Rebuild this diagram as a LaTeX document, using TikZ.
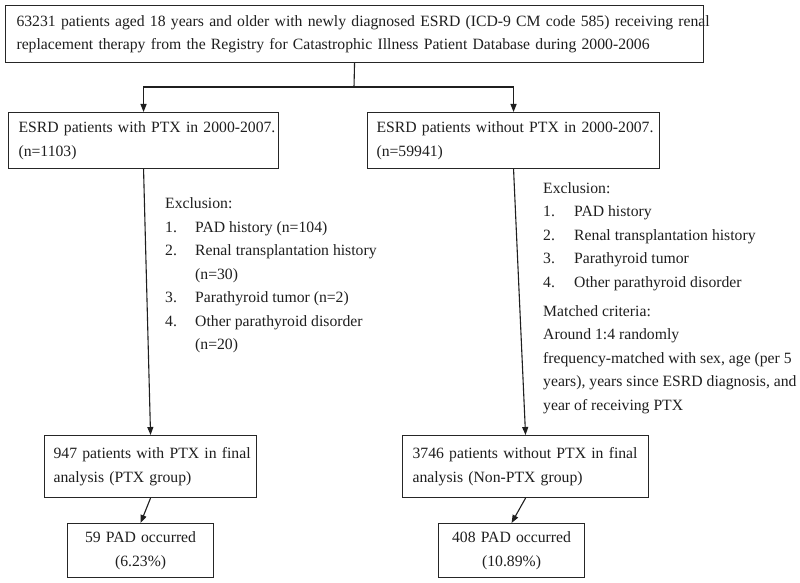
\documentclass[tikz,border=0pt]{standalone}
\usepackage{fontspec}
\setmainfont{Liberation Serif}
\usetikzlibrary{arrows.meta}
\begin{document}
\begin{tikzpicture}[x=1pt,y=-1pt,
  every node/.style={font=\fontsize{15.7}{23.5}\selectfont, text=black!88},
  box/.style={draw=black!85, line width=1.1pt, rectangle, anchor=north west,
    inner ysep=0pt, align=left},
  cbox/.style={box, align=center},
  txt/.style={anchor=base west, inner sep=0pt},
  line/.style={draw=black!88, line width=1.1pt},
  arr/.style={line, -{Triangle[length=8pt,width=6pt]}}]
\useasboundingbox[fill=white] (0,0) rectangle (800,583);

% boxes
\node[box, minimum width=698pt, minimum height=57pt, text width=676pt, inner xsep=11pt] (top) at (5,5)
  {\mbox{63231 patients aged 18 years and older with newly diagnosed ESRD (ICD-9 CM code 585) receiving renal}\\
   \mbox{replacement therapy from the Registry for Catastrophic Illness Patient Database during 2000-2006}};
\node[box, minimum width=270pt, minimum height=56pt, text width=250pt, inner xsep=10pt] (b1) at (8,112)
  {\mbox{ESRD patients with PTX in 2000-2007.}\\(n=1103)};
\node[box, minimum width=292pt, minimum height=56pt, text width=274pt, inner xsep=9pt] (b2) at (367,112)
  {\mbox{ESRD patients without PTX in 2000-2007.}\\(n=59941)};
\node[box, minimum width=212pt, minimum height=62pt, text width=194pt, inner xsep=9pt] (c1) at (44,435)
  {\mbox{947 patients with PTX in final}\\analysis (PTX group)};
\node[box, minimum width=246pt, minimum height=62pt, text width=226pt, inner xsep=10pt] (c2) at (402,435)
  {\mbox{3746 patients without PTX in final}\\\mbox{analysis (Non-PTX group)}};
\node[cbox, minimum width=146pt, minimum height=54pt, text width=130pt, inner xsep=8pt] (d1) at (67,523)
  {59 PAD occurred\\(6.23\%)};
\node[cbox, minimum width=146pt, minimum height=54pt, text width=130pt, inner xsep=8pt] (d2) at (438,523)
  {408 PAD occurred\\(10.89\%)};

% left exclusion
\node[txt] (le0) at (165,208) {Exclusion:};
\node[txt] (le1) at (165,232) {1.};
\node[txt] (le1t) at (195,232) {PAD history (n=104)};
\node[txt] (le2) at (165,255) {2.};
\node[txt] (le2t) at (195,255) {Renal transplantation history};
\node[txt] (le2u) at (195,279) {(n=30)};
\node[txt] (le3) at (165,302) {3.};
\node[txt] (le3t) at (195,302) {Parathyroid tumor (n=2)};
\node[txt] (le4) at (165,326) {4.};
\node[txt] (le4t) at (195,326) {Other parathyroid disorder};
\node[txt] (le4u) at (195,349) {(n=20)};

% right exclusion and matching
\node[txt] (re0) at (543,193) {Exclusion:};
\node[txt] (re1) at (543,216) {1.};
\node[txt] (re1t) at (574,216) {PAD history};
\node[txt] (re2) at (543,240) {2.};
\node[txt] (re2t) at (574,240) {Renal transplantation history};
\node[txt] (re3) at (543,263) {3.};
\node[txt] (re3t) at (574,263) {Parathyroid tumor};
\node[txt] (re4) at (543,287) {4.};
\node[txt] (re4t) at (574,287) {Other parathyroid disorder};
\node[txt] (rm0) at (543,316) {Matched criteria:};
\node[txt] (rm1) at (543,339) {Around 1:4 randomly};
\node[txt] (rm2) at (543,363) {frequency-matched with sex, age (per 5};
\node[txt] (rm3) at (543,386) {years), years since ESRD diagnosis, and};
\node[txt] (rm4) at (543,410) {year of receiving PTX};

% connectors
\coordinate (split) at (354,87);
\draw[line] (top.south) -- (split);
\draw[arr] (split) -| (b1.north);
\draw[arr] (split) -| (b2.north);
\draw[arr] (b1.south) -- (c1.north);
\draw[arr] (b2.south) -- (c2.north);
\draw[arr] (c1.south) -- (d1.north);
\draw[arr] (c2.south) -- (d2.north);
\end{tikzpicture}
\end{document}
